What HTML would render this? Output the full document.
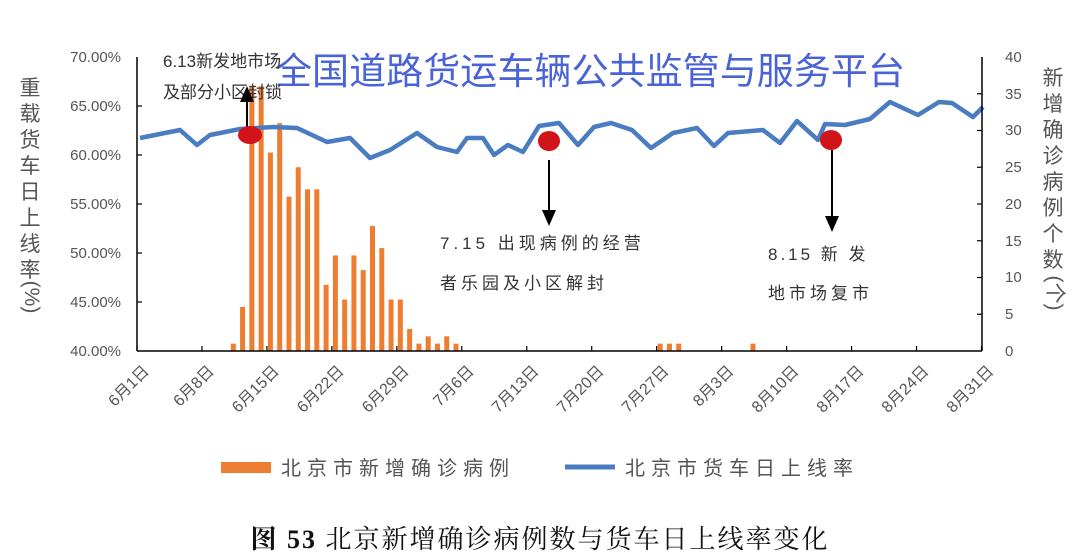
<!DOCTYPE html>
<html><head><meta charset="utf-8"><style>
html,body{margin:0;padding:0;background:#fff;}
svg{display:block;}
text{font-family:"Liberation Sans","Noto Sans CJK SC",sans-serif;}
</style></head><body>
<svg width="1080" height="560" viewBox="0 0 1080 560" xmlns="http://www.w3.org/2000/svg">
<rect width="1080" height="560" fill="#fff"/>
<g id="bars" fill="#ed7d31"></g>
<polyline fill="none" stroke="#4a7cc1" stroke-width="4.5" stroke-linejoin="round" points="140,138 160,134 180,130 197,145 210,135 240,129 273,127 297,128 327,142 350,138 370,158 390,150 417,133 437,147 457,152 467,138 483,138 494,155 508,145 523,152 539,126 559,123 578,145 594,127 611,123 632,130 651,148 673,133 697,128 714,146 728,133 763,130 780,143 797,121 818,140 825,124 845,125 870,119 890,102 918,115 939,102 952,103 973,117 983,107"/>
<g stroke="#000" stroke-width="1.5" fill="none">
<line x1="137" y1="57" x2="137" y2="351"/>
<line x1="137" y1="351" x2="982" y2="351"/>
<line x1="982" y1="57" x2="982" y2="351"/>
</g>
<g id="ticks" stroke="#000" stroke-width="1.2"></g>
<g font-size="15" fill="#555" text-anchor="end">
<text x="121" y="62">70.00%</text><text x="121" y="111">65.00%</text><text x="121" y="160">60.00%</text><text x="121" y="209">55.00%</text><text x="121" y="258">50.00%</text><text x="121" y="307">45.00%</text><text x="121" y="356">40.00%</text>
</g>
<g font-size="15" fill="#555">
<text x="1005" y="62">40</text><text x="1005" y="99">35</text><text x="1005" y="135">30</text><text x="1005" y="172">25</text><text x="1005" y="209">20</text><text x="1005" y="246">15</text><text x="1005" y="282">10</text><text x="1005" y="319">5</text><text x="1005" y="356">0</text>
</g>
<g id="xl" font-size="16" fill="#555" text-anchor="end"></g>
<g font-size="21" fill="#555" text-anchor="middle">
<text x="30" y="95">重</text><text x="30" y="121">载</text><text x="30" y="147">货</text><text x="30" y="173">车</text><text x="30" y="199">日</text><text x="30" y="225">上</text><text x="30" y="251">线</text><text x="30" y="277">率</text>
<text x="30" y="302" transform="rotate(90 30 297)">(%)</text>
<text x="1053" y="85">新</text><text x="1053" y="111">增</text><text x="1053" y="137">确</text><text x="1053" y="163">诊</text><text x="1053" y="189">病</text><text x="1053" y="215">例</text><text x="1053" y="241">个</text><text x="1053" y="267">数</text>
<text x="1053" y="298" transform="rotate(90 1053 293)">(个)</text>
</g>
<text x="275" y="84" font-size="37" fill="#4a63d6" textLength="630" lengthAdjust="spacingAndGlyphs">全国道路货运车辆公共监管与服务平台</text>
<g font-size="17" fill="#333">
<text x="163" y="67">6.13新发地市场</text>
<text x="163" y="98">及部分小区封锁</text>
<text x="440" y="249" letter-spacing="4">7.15 出现病例的经营</text>
<text x="440" y="289" letter-spacing="4">者乐园及小区解封</text>
<text x="768" y="260" letter-spacing="3">8.15  新 发</text>
<text x="768" y="299" letter-spacing="4">地市场复市</text>
</g>
<g stroke="#000" stroke-width="2" fill="#000">
<line x1="247" y1="128" x2="247" y2="100"/><polygon points="240,102 254,102 247,86" stroke="none"/>
<line x1="549" y1="160" x2="549" y2="212"/><polygon points="542,210 556,210 549,226" stroke="none"/>
<line x1="832" y1="150" x2="832" y2="218"/><polygon points="825,216 839,216 832,232" stroke="none"/>
</g>
<g fill="#d0141a">
<ellipse cx="250" cy="135" rx="12" ry="9"/>
<ellipse cx="549" cy="141" rx="11" ry="10"/>
<ellipse cx="831" cy="140" rx="11" ry="10"/>
</g>
<rect x="221" y="462" width="50" height="11" fill="#ed7d31"/>
<text x="281" y="475" font-size="20" fill="#555" letter-spacing="6">北京市新增确诊病例</text>
<line x1="565" y1="467" x2="615" y2="467" stroke="#4a7cc1" stroke-width="5"/>
<text x="625" y="475" font-size="20" fill="#555" letter-spacing="6">北京市货车日上线率</text>
<text x="540" y="548" font-size="26" fill="#111" text-anchor="middle" letter-spacing="2" style="font-family:'Liberation Serif','Noto Serif CJK SC',serif"><tspan font-weight="bold">图 53</tspan>  北京新增确诊病例数与货车日上线率变化</text>
</svg>
<script>
(function(){
var ns="http://www.w3.org/2000/svg";
var vals={10:1,11:6,12:36,13:36,14:27,15:31,16:21,17:25,18:22,19:22,20:9,21:13,22:7,23:13,24:11,25:17,26:14,27:7,28:7,29:3,30:1,31:2,32:1,33:2,34:1,56:1,57:1,58:1,66:1};
var g=document.getElementById("bars");
for(var d in vals){var x=140.5+9.28*d;var h=vals[d]*7.35;var r=document.createElementNS(ns,"rect");
r.setAttribute("x",x-2.5);r.setAttribute("y",351-h);r.setAttribute("width",5);r.setAttribute("height",h);g.appendChild(r);}
var t=document.getElementById("ticks");
for(var i=0;i<=13;i++){var x=137+i*7*9.28;var l=document.createElementNS(ns,"line");l.setAttribute("x1",x);l.setAttribute("x2",x);l.setAttribute("y1",346);l.setAttribute("y2",351);t.appendChild(l);}
for(var i=1;i<8;i++){var y=351-i*36.75;var l=document.createElementNS(ns,"line");l.setAttribute("x1",977);l.setAttribute("x2",982);l.setAttribute("y1",y);l.setAttribute("y2",y);t.appendChild(l);}
for(var i=1;i<6;i++){var y=351-i*49;var l=document.createElementNS(ns,"line");l.setAttribute("x1",137);l.setAttribute("x2",142);l.setAttribute("y1",y);l.setAttribute("y2",y);t.appendChild(l);}
var labs=["6月1日","6月8日","6月15日","6月22日","6月29日","7月6日","7月13日","7月20日","7月27日","8月3日","8月10日","8月17日","8月24日","8月31日"];
var xl=document.getElementById("xl");
for(var i=0;i<labs.length;i++){var x=150+i*7*9.28;var y=372;var e=document.createElementNS(ns,"text");e.setAttribute("x",x);e.setAttribute("y",y);e.setAttribute("transform","rotate(-45 "+x+" "+y+")");e.textContent=labs[i];xl.appendChild(e);}
})();
</script>
</body></html>
